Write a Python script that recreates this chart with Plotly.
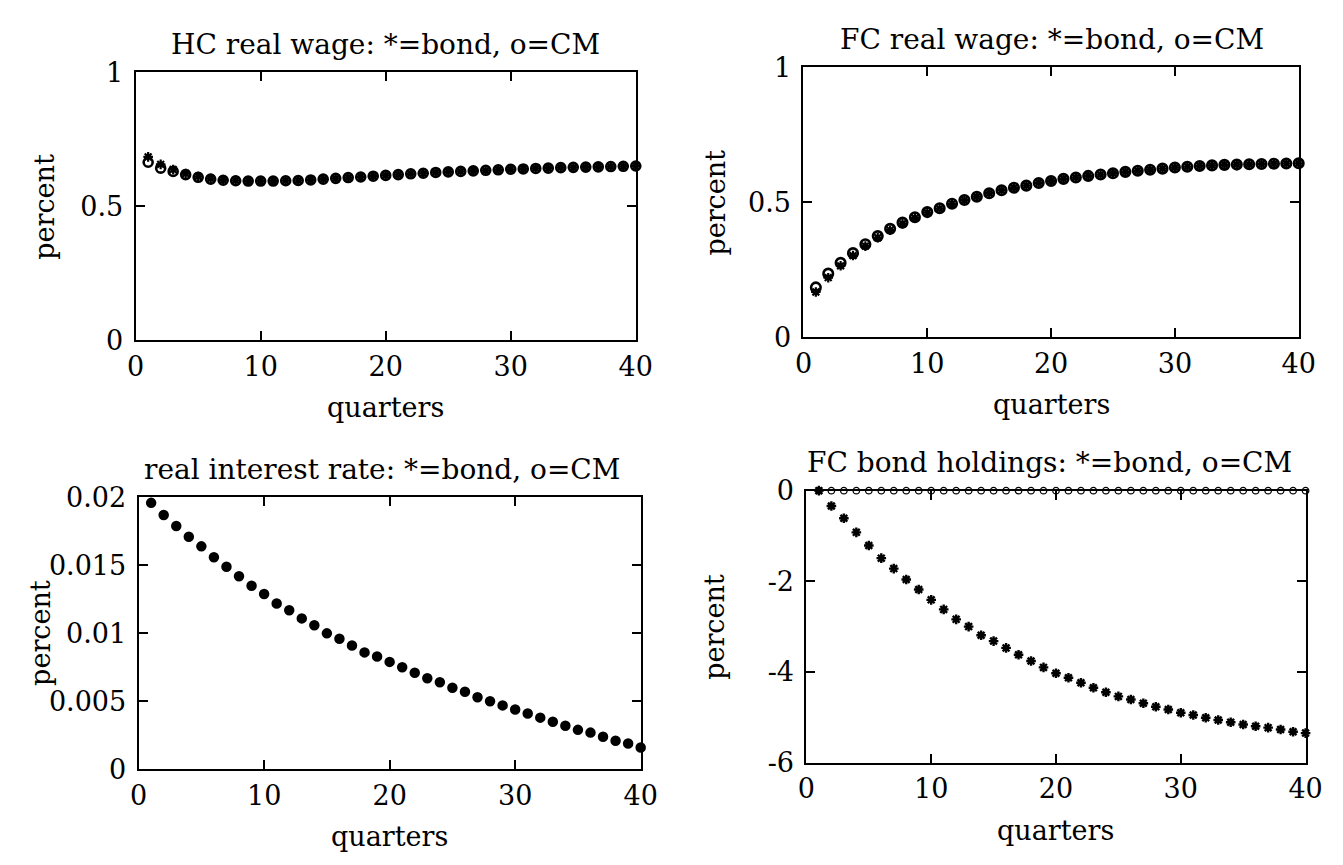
import plotly.graph_objects as go

quarters = list(range(1, 41))

hc_wage_cm = [0.664, 0.642, 0.630, 0.618, 0.608, 0.601, 0.597, 0.595, 0.594, 0.594,
              0.594, 0.595, 0.596, 0.598, 0.601, 0.604, 0.607, 0.609, 0.612, 0.615,
              0.618, 0.621, 0.623, 0.626, 0.628, 0.630, 0.632, 0.634, 0.636, 0.638,
              0.639, 0.641, 0.642, 0.644, 0.645, 0.646, 0.647, 0.648, 0.649, 0.650]
hc_wage_bond = [0.684, 0.656, 0.637, 0.622, 0.611, 0.603, 0.598, 0.596, 0.594, 0.594,
                0.594, 0.595, 0.596, 0.598, 0.601, 0.604, 0.607, 0.609, 0.612, 0.615,
                0.618, 0.621, 0.623, 0.626, 0.628, 0.630, 0.632, 0.634, 0.636, 0.638,
                0.639, 0.641, 0.642, 0.644, 0.645, 0.646, 0.647, 0.648, 0.649, 0.650]

fc_wage_cm = [0.185, 0.236, 0.276, 0.312, 0.345, 0.375, 0.402, 0.425, 0.445, 0.464,
              0.478, 0.495, 0.509, 0.521, 0.534, 0.545, 0.554, 0.562, 0.572, 0.579,
              0.587, 0.592, 0.598, 0.603, 0.608, 0.613, 0.617, 0.621, 0.625, 0.629,
              0.632, 0.635, 0.637, 0.639, 0.640, 0.641, 0.642, 0.643, 0.644, 0.645]
fc_wage_bond = [0.168, 0.221, 0.265, 0.303, 0.338, 0.369, 0.397, 0.421, 0.442, 0.462,
                0.477, 0.494, 0.508, 0.521, 0.534, 0.545, 0.554, 0.562, 0.572, 0.579,
                0.587, 0.592, 0.598, 0.603, 0.608, 0.613, 0.617, 0.621, 0.625, 0.629,
                0.632, 0.635, 0.637, 0.639, 0.640, 0.641, 0.642, 0.643, 0.644, 0.645]

rate_cm = [0.0196, 0.0187, 0.0179, 0.0171, 0.0164, 0.0156, 0.0149, 0.0142, 0.0135, 0.0129,
           0.0122, 0.0117, 0.0111, 0.0106, 0.0100, 0.0096, 0.0091, 0.0086, 0.0083, 0.0079,
           0.0075, 0.0071, 0.0067, 0.0064, 0.0060, 0.0057, 0.0053, 0.0050, 0.0047, 0.0044,
           0.0041, 0.0038, 0.0035, 0.0032, 0.0029, 0.0027, 0.0024, 0.0021, 0.0019, 0.0016]
rate_bond = list(rate_cm)

fcbond_cm = [0.0] * 40
fcbond_bond = [0.00, -0.34, -0.61, -0.92, -1.21, -1.49, -1.72, -1.96, -2.18, -2.41,
               -2.62, -2.84, -3.00, -3.19, -3.32, -3.47, -3.62, -3.76, -3.90, -4.03,
               -4.13, -4.24, -4.35, -4.45, -4.54, -4.61, -4.69, -4.77, -4.83, -4.90,
               -4.95, -5.01, -5.06, -5.11, -5.16, -5.20, -5.23, -5.27, -5.32, -5.35]

titles = ["HC real wage: *=bond, o=CM", "FC real wage: *=bond, o=CM",
          "real interest rate: *=bond, o=CM", "FC bond holdings: *=bond, o=CM"]
y_ticks = [[0, 0.5, 1], [0, 0.5, 1], [0, 0.005, 0.01, 0.015, 0.02], [-6, -4, -2, 0]]
y_ticktext = [["0", "0.5", "1"], ["0", "0.5", "1"],
              ["0", "0.005", "0.01", "0.015", "0.02"], ["-6", "-4", "-2", "0"]]
y_ranges = [[0, 1], [0, 1], [0, 0.02], [-6, 0]]
x_ticks = [0, 10, 20, 30, 40]

W, H = 1343, 865
# pixel boxes: left, right, top, bottom
boxes = [(121, 631, 50, 328), (802, 1307, 45, 325), (124, 636, 491, 773), (805, 1314, 484, 766)]
title_cx = [376, 1055, 372, 1053]
ylab_off = [93, 90, 100, 94]
series = [(hc_wage_bond, hc_wage_cm), (fc_wage_bond, fc_wage_cm),
          (rate_bond, rate_cm), (fcbond_bond, fcbond_cm)]
circ = [(9, 2.6), (9.5, 2.6), (7.5, 3.0), (6.5, 1.3)]
star = [(8, 2.2), (8, 2.2), (7, 2.4), (8, 2.4)]

FONT = "DejaVu Serif, serif"
fig = go.Figure()
annotations = []
for i in range(4):
    l, r, t, b = boxes[i]
    xa = "x" if i == 0 else f"x{i+1}"
    ya = "y" if i == 0 else f"y{i+1}"
    bond, cm = series[i]
    fig.add_trace(go.Scatter(x=quarters, y=cm, mode="markers", xaxis=xa, yaxis=ya,
                             cliponaxis=False, showlegend=False,
                             marker=dict(symbol="circle-open", size=circ[i][0], color="black",
                                         line=dict(width=circ[i][1], color="black"))))
    fig.add_trace(go.Scatter(x=quarters, y=bond, mode="markers", xaxis=xa, yaxis=ya,
                             cliponaxis=False, showlegend=False,
                             marker=dict(symbol="asterisk-open", size=star[i][0], color="black",
                                         line=dict(width=star[i][1], color="black"))))
    axcommon = dict(showline=True, linecolor="black", linewidth=2, mirror="ticks",
                    ticks="inside", ticklen=9, tickwidth=2, tickcolor="black",
                    showgrid=False, zeroline=False,
                    tickfont=dict(family=FONT, size=27, color="black"))
    fig.layout[("xaxis" if i == 0 else f"xaxis{i+1}")] = dict(
        domain=[l / W, r / W], anchor=ya, range=[0, 40], tickvals=x_ticks,
        ticktext=[str(v) for v in x_ticks], ticklabelstandoff=1, **axcommon)
    fig.layout[("yaxis" if i == 0 else f"yaxis{i+1}")] = dict(
        domain=[1 - b / H, 1 - t / H], anchor=xa, range=y_ranges[i], tickvals=y_ticks[i],
        ticktext=y_ticktext[i], ticklabelstandoff=5, **axcommon)
    cx = (l + r) / 2
    annotations.append(dict(text=titles[i], x=title_cx[i] / W, y=1 - (t - 29) / H, xref="paper",
                            yref="paper", showarrow=False,
                            font=dict(family=FONT, size=28, color="black"),
                            xanchor="center", yanchor="middle"))
    annotations.append(dict(text="quarters", x=cx / W, y=1 - (b + 70) / H, xref="paper", yref="paper",
                            showarrow=False, font=dict(family=FONT, size=27, color="black"),
                            xanchor="center", yanchor="middle"))
    annotations.append(dict(text="percent", x=(l - ylab_off[i]) / W, y=1 - ((t + b) / 2) / H,
                            xref="paper", yref="paper", showarrow=False, textangle=-90,
                            font=dict(family=FONT, size=27, color="black"),
                            xanchor="center", yanchor="middle"))

fig.update_layout(width=W, height=H, margin=dict(l=0, r=0, t=0, b=0),
                  paper_bgcolor="white", plot_bgcolor="white", annotations=annotations)
fig.write_html("out.html")
